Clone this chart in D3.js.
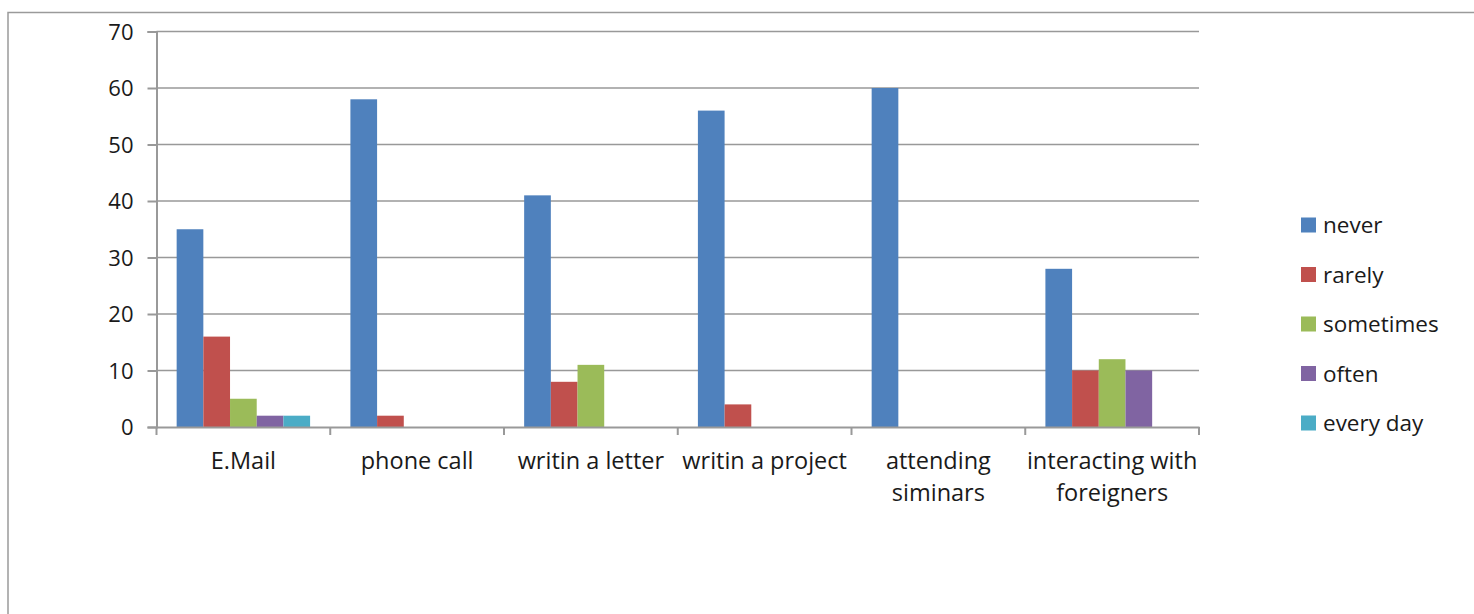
<!DOCTYPE html>
<html>
<head>
<meta charset="utf-8">
<script src="https://cdn.jsdelivr.net/npm/d3@7"></script>
<style>
  html, body { margin: 0; padding: 0; background: #fff; }
  svg { display: block; }
  text { font-family: "Open Sans", sans-serif; fill: #1a1a1a; }
</style>
</head>
<body>
<svg id="chart" width="1474" height="614"></svg>
<script>
// Survey: how often English is used for each activity
const categories = ["E.Mail", "phone call", "writin a letter", "writin a project", "attending siminars", "interacting with foreigners"];
const seriesNames = ["never", "rarely", "sometimes", "often", "every day"];
const never     = [35, 58, 41, 56, 60, 28];
const rarely    = [16, 2, 8, 4, 0, 10];
const sometimes = [5, 0, 11, 0, 0, 12];
const often     = [2, 0, 0, 0, 0, 10];
const everyDay  = [2, 0, 0, 0, 0, 0];
const yTicks = [0, 10, 20, 30, 40, 50, 60, 70];
const colors = ["#4F81BD", "#C0504D", "#9BBB59", "#8064A2", "#4BACC6"];

const seriesValues = [never, rarely, sometimes, often, everyDay];
const rows = categories.map((c, i) => ({
  category: c,
  values: seriesNames.map((s, k) => ({ series: s, value: seriesValues[k][i] }))
}));

const svg = d3.select("#chart");
const plot = { left: 156.5, right: 1199, top: 31.5, bottom: 427 };

// outer chart frame
svg.append("rect")
  .attr("x", 8).attr("y", 12.5)
  .attr("width", 1500).attr("height", 700)
  .attr("fill", "none").attr("stroke", "#9a9a9a").attr("stroke-width", 1.5);

const x0 = d3.scaleBand().domain(categories).range([plot.left, plot.right]).paddingInner(0).paddingOuter(0);
const x1 = d3.scaleBand().domain(seriesNames).range([0, x0.bandwidth()]).paddingInner(0).paddingOuter(0.755);
const y = d3.scaleLinear().domain([0, 70]).range([plot.bottom, plot.top]);

// gridlines
svg.append("g")
  .selectAll("line")
  .data(yTicks.filter(t => t > 0))
  .join("line")
  .attr("x1", plot.left).attr("x2", plot.right)
  .attr("y1", d => y(d)).attr("y2", d => y(d))
  .attr("stroke", "#999").attr("stroke-width", 1.3);

// bars
const groups = svg.append("g")
  .selectAll("g")
  .data(rows)
  .join("g")
  .attr("transform", d => `translate(${x0(d.category)},0)`);

groups.selectAll("rect")
  .data(d => d.values.filter(v => v.value > 0))
  .join("rect")
  .attr("x", d => x1(d.series))
  .attr("width", x1.bandwidth())
  .attr("y", d => y(d.value))
  .attr("height", d => y(0) - y(d.value))
  .attr("fill", (d) => colors[seriesNames.indexOf(d.series)]);

// y axis
const yAxis = d3.axisLeft(y).tickValues(yTicks).tickSize(9).tickPadding(14);
const gy = svg.append("g").attr("transform", `translate(${plot.left},0)`).call(yAxis);
gy.selectAll("text").style("font-size", "22px").attr("dy", "0.36em");

// x axis
const xAxis = d3.axisBottom(x0).tickValues([]).tickSizeOuter(0);
const gx = svg.append("g").attr("transform", `translate(0,${plot.bottom})`).call(xAxis);
const tickPositions = categories.map(c => x0(c)).concat([plot.right]);
gx.selectAll(".tickmark")
  .data(tickPositions)
  .join("line")
  .attr("class", "tickmark")
  .attr("x1", d => d).attr("x2", d => d)
  .attr("y1", 0).attr("y2", 8);

svg.selectAll(".domain, .tick line, .tickmark")
  .attr("stroke", "#999").attr("stroke-width", 2);

// category labels, wrapped to the band width
const labelWidth = x0.bandwidth() + 2;
const labels = svg.append("g").selectAll("text")
  .data(categories)
  .join("text")
  .attr("text-anchor", "middle")
  .style("font-size", "23.5px")
  .attr("x", d => x0(d) + x0.bandwidth() / 2)
  .attr("y", 469);

labels.each(function(d) {
  const t = d3.select(this);
  const words = d.split(" ");
  let line = [];
  let tspan = t.append("tspan").attr("x", t.attr("x")).attr("dy", 0);
  words.forEach(w => {
    line.push(w);
    tspan.text(line.join(" "));
    if (tspan.node().getComputedTextLength() > labelWidth && line.length > 1) {
      line.pop();
      tspan.text(line.join(" "));
      line = [w];
      tspan = t.append("tspan").attr("x", t.attr("x")).attr("dy", 32).text(w);
    }
  });
});

// legend
const legend = svg.append("g").selectAll("g")
  .data(seriesNames)
  .join("g")
  .attr("transform", (d, i) => `translate(1301,${225 + i * 49.5})`);
legend.append("rect")
  .attr("x", 0).attr("y", -7.5).attr("width", 15).attr("height", 15)
  .attr("fill", (d, i) => colors[i]);
legend.append("text")
  .attr("x", 22).attr("dy", "0.36em")
  .style("font-size", "22.5px")
  .text(d => d);
</script>
</body>
</html>
